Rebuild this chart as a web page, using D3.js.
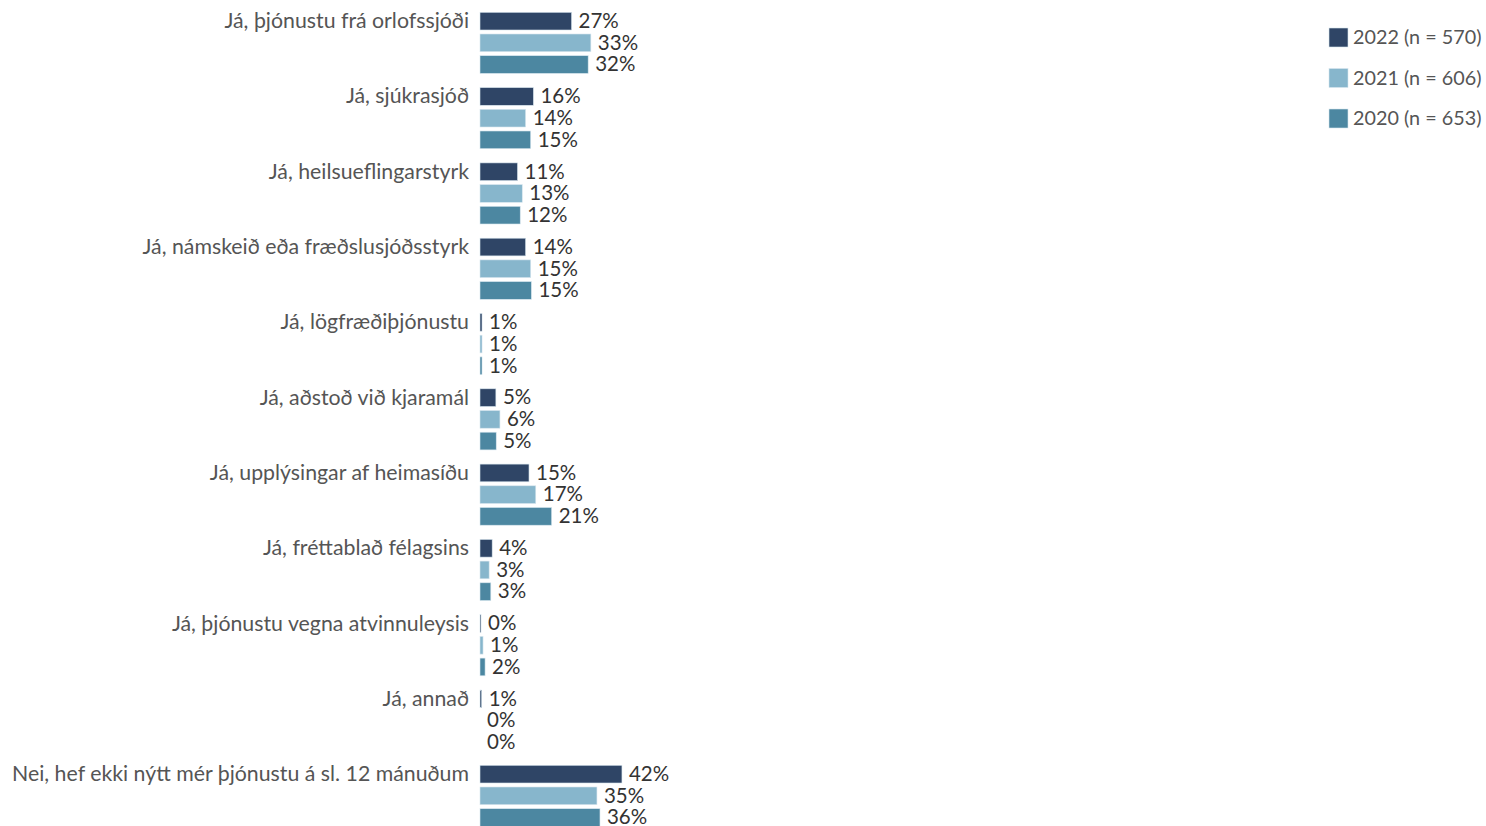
<!DOCTYPE html>
<html>
<head>
<meta charset="utf-8">
<script src="https://cdn.jsdelivr.net/npm/d3@7"></script>
<style>
  html, body { margin: 0; padding: 0; background: #fff; }
  svg { display: block; font-family: Lato, "Open Sans", sans-serif; }
</style>
</head>
<body>
<svg id="chart" width="1486" height="826"></svg>
<script>
const categories = [
  "Já, þjónustu frá orlofssjóði",
  "Já, sjúkrasjóð",
  "Já, heilsueflingarstyrk",
  "Já, námskeið eða fræðslusjóðsstyrk",
  "Já, lögfræðiþjónustu",
  "Já, aðstoð við kjaramál",
  "Já, upplýsingar af heimasíðu",
  "Já, fréttablað félagsins",
  "Já, þjónustu vegna atvinnuleysis",
  "Já, annað",
  "Nei, hef ekki nýtt mér þjónustu á sl. 12 mánuðum"
];
const seriesNames = ["2022 (n = 570)", "2021 (n = 606)", "2020 (n = 653)"];
const values2022 = [27.1, 15.8, 11.1, 13.5, 0.6, 4.7, 14.5, 3.6, 0.3, 0.5, 42.0];
const values2021 = [32.8, 13.5, 12.5, 15.0, 0.6, 5.9, 16.5, 2.7, 0.9, 0.0, 34.6];
const values2020 = [32.0, 15.0, 11.9, 15.2, 0.6, 4.8, 21.2, 3.2, 1.5, 0.0, 35.5];
const colors = ["#2f4566", "#87b6cc", "#4c87a1"];

const series = [values2022, values2021, values2020];
const svg = d3.select("#chart");

const x0 = 480;
const x = d3.scaleLinear().domain([0, 100]).range([x0, x0 + 338]);

const yGroup = d3.scaleBand().domain(categories).range([10.3, 10.3 + 11 * 75.3]).padding(0);
const yInner = d3.scaleBand().domain(d3.range(3)).range([0, 65.1]).paddingInner(0.184).paddingOuter(0.092);

const groups = svg.append("g").selectAll("g.cat")
  .data(categories)
  .join("g")
  .attr("class", "cat")
  .attr("transform", d => `translate(0,${yGroup(d)})`);

groups.append("text")
  .attr("x", 469)
  .attr("y", yInner(0) + yInner.bandwidth() / 2)
  .attr("dy", "0.33em")
  .attr("text-anchor", "end")
  .attr("font-size", 21.3)
  .attr("fill", "#555")
  .text(d => d);

groups.each(function(cat, ci) {
  const g = d3.select(this);
  series.forEach((vals, si) => {
    const v = vals[ci];
    if (v > 0) {
      g.append("rect")
        .attr("x", x(0))
        .attr("y", yInner(si))
        .attr("width", x(v) - x(0))
        .attr("height", yInner.bandwidth())
        .attr("fill", colors[si])
        .attr("stroke", "#d8e6ee")
        .attr("stroke-width", 0.6);
    }
    g.append("text")
      .attr("x", x(v) + 7)
      .attr("y", yInner(si) + yInner.bandwidth() / 2)
      .attr("dy", "0.33em")
      .attr("font-size", 20.5)
      .attr("fill", "#333")
      .text(Math.round(v) + "%");
  });
});

// Legend
const legend = svg.append("g").attr("transform", "translate(1329,28)");
const ly = d3.scalePoint().domain(d3.range(3)).range([0, 81]);
const items = legend.selectAll("g").data(seriesNames).join("g")
  .attr("transform", (d, i) => `translate(0,${ly(i)})`);
items.append("rect").attr("width", 19).attr("height", 19)
  .attr("fill", (d, i) => colors[i]).attr("stroke", "#d8e6ee").attr("stroke-width", 0.6);
items.append("text").attr("x", 24).attr("y", 9.5).attr("dy", "0.35em")
  .attr("font-size", 19.8).attr("fill", "#555").text(d => d);
</script>
</body>
</html>
